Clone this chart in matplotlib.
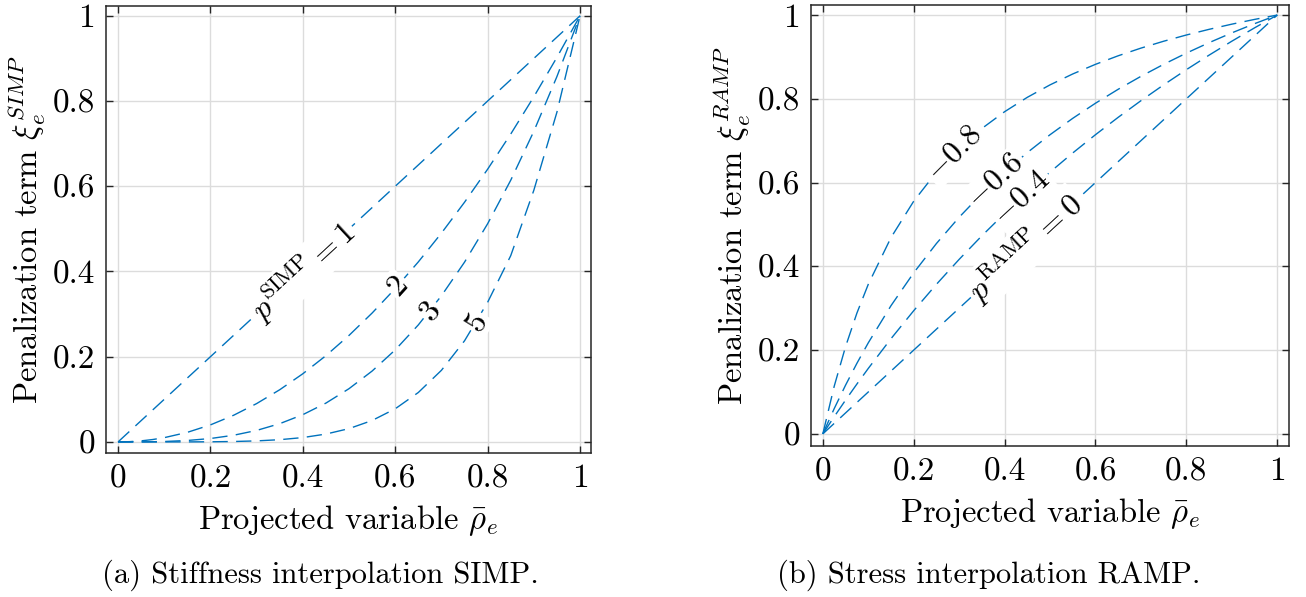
import numpy as np
import matplotlib
matplotlib.use("Agg")
import matplotlib.pyplot as plt

plt.rcParams['font.family'] = 'serif'
plt.rcParams['font.serif'] = ['cmr10']
plt.rcParams['mathtext.fontset'] = 'cm'
plt.rcParams['axes.formatter.use_mathtext'] = True
plt.rcParams['axes.unicode_minus'] = True

# projected variable (x values shared by all curves)
rho = [0, 0.025, 0.05, 0.075, 0.1, 0.15, 0.2, 0.25, 0.3, 0.35, 0.4, 0.45,
       0.5, 0.55, 0.6, 0.65, 0.7, 0.75, 0.8, 0.85, 0.9, 0.95, 1.0]

# SIMP penalization, p = 1, 2, 3, 5
simp_p1 = [0, 0.025, 0.05, 0.075, 0.1, 0.15, 0.2, 0.25, 0.3, 0.35, 0.4, 0.45,
           0.5, 0.55, 0.6, 0.65, 0.7, 0.75, 0.8, 0.85, 0.9, 0.95, 1.0]
simp_p2 = [0, 0.000625, 0.0025, 0.005625, 0.01, 0.0225, 0.04, 0.0625, 0.09, 0.1225,
           0.16, 0.2025, 0.25, 0.3025, 0.36, 0.4225, 0.49, 0.5625, 0.64, 0.7225,
           0.81, 0.9025, 1.0]
simp_p3 = [0, 0.0000156, 0.000125, 0.000422, 0.001, 0.003375, 0.008, 0.015625, 0.027,
           0.042875, 0.064, 0.091125, 0.125, 0.166375, 0.216, 0.274625, 0.343,
           0.421875, 0.512, 0.614125, 0.729, 0.857375, 1.0]
simp_p5 = [0, 0.0, 0.0000003, 0.0000024, 0.00001, 0.0000759, 0.00032, 0.000977,
           0.00243, 0.00525, 0.01024, 0.01845, 0.03125, 0.05033, 0.07776, 0.11603,
           0.16807, 0.2373, 0.32768, 0.43705, 0.59049, 0.77378, 1.0]

# RAMP penalization, p = 0, -0.4, -0.6, -0.8
ramp_0 = [0, 0.025, 0.05, 0.075, 0.1, 0.15, 0.2, 0.25, 0.3, 0.35, 0.4, 0.45,
          0.5, 0.55, 0.6, 0.65, 0.7, 0.75, 0.8, 0.85, 0.9, 0.95, 1.0]
ramp_m04 = [0, 0.04098, 0.08065, 0.11905, 0.15625, 0.22727, 0.29412, 0.35714,
            0.41667, 0.47297, 0.52632, 0.57692, 0.625, 0.67073, 0.71429, 0.75581,
            0.79545, 0.83333, 0.86957, 0.90426, 0.9375, 0.96939, 1.0]
ramp_m06 = [0, 0.06024, 0.11628, 0.16854, 0.21739, 0.30612, 0.38462, 0.45455,
            0.51724, 0.57377, 0.625, 0.67164, 0.71429, 0.75342, 0.78947, 0.82278,
            0.85366, 0.88235, 0.90909, 0.93407, 0.95745, 0.97938, 1.0]
ramp_m08 = [0, 0.11364, 0.20833, 0.28846, 0.35714, 0.46875, 0.55556, 0.625,
            0.68182, 0.72917, 0.76923, 0.80357, 0.83333, 0.85938, 0.88235, 0.90278,
            0.92105, 0.9375, 0.95238, 0.96591, 0.97826, 0.98958, 1.0]

ticks = [0, 0.2, 0.4, 0.6, 0.8, 1]
tick_labels = ['0', '0.2', '0.4', '0.6', '0.8', '1']

simp_curves = [simp_p1, simp_p2, simp_p3, simp_p5]
simp_labels = [r'$p^{\mathrm{SIMP}}=1$', '2', '3', '5']
simp_label_x = [0.40, 0.605, 0.675, 0.775]

ramp_curves = [ramp_0, ramp_m04, ramp_m06, ramp_m08]
ramp_labels = [r'$p^{\mathrm{RAMP}}=0$', r'$-0.4$', r'$-0.6$', r'$-0.8$']
ramp_label_x = [0.445, 0.437, 0.38, 0.29]

blue = '#0072BD'
fs_tick = 24
fs_lab = 23.5
fs_cap = 22
fs_in = 23

fig = plt.figure(figsize=(13.06, 5.97), dpi=100)
ax1 = fig.add_axes([0.0812, 0.2412, 0.3714, 0.7487])
ax2 = fig.add_axes([0.621, 0.2529, 0.366, 0.7387])


def style(ax, ylim):
    ax.set_xlim(-0.026, 1.024)
    ax.set_ylim(*ylim)
    ax.set_xticks(ticks)
    ax.set_xticklabels(tick_labels)
    ax.set_yticks(ticks)
    ax.set_yticklabels(tick_labels)
    ax.tick_params(direction='in', top=True, right=True, length=5,
                   width=1, color='#262626', labelsize=fs_tick, pad=8)
    ax.grid(True, color='#dcdcdc', lw=1)
    ax.set_axisbelow(True)
    for s in ax.spines.values():
        s.set_color('#262626')
        s.set_linewidth(1.1)


def draw(ax, curves, labels, label_x):
    for c in curves:
        ax.plot(rho, c, color=blue, lw=1.0, dashes=(11, 6))
    for c, lab, lx in zip(curves, labels, label_x):
        ly = np.interp(lx, rho, c)
        dx = 0.02
        y1 = np.interp(lx - dx, rho, c)
        y2 = np.interp(lx + dx, rho, c)
        ang = np.degrees(np.arctan2(y2 - y1, 2 * dx))
        rot = ax.transData.transform_angles(np.array([ang]),
                                            np.array([[lx, ly]]))[0]
        ax.text(lx, ly, lab, rotation=rot, rotation_mode='anchor',
                ha='center', va='center', fontsize=fs_in, color='black',
                bbox=dict(facecolor='white', edgecolor='none', pad=1.5))


style(ax1, (-0.026, 1.023))
style(ax2, (-0.029, 1.024))
ax2.set_xlim(-0.026, 1.026)

draw(ax1, simp_curves, simp_labels, simp_label_x)
draw(ax2, ramp_curves, ramp_labels, ramp_label_x)

ax1.set_xlabel(r'Projected variable $\bar{\rho}_e$', fontsize=fs_lab, labelpad=7)
ax1.set_ylabel(r'Penalization term $\xi_e^{SIMP}$', fontsize=fs_lab, labelpad=3)
ax2.set_xlabel(r'Projected variable $\bar{\rho}_e$', fontsize=fs_lab, labelpad=7)
ax2.set_ylabel(r'Penalization term $\xi_e^{RAMP}$', fontsize=fs_lab, labelpad=3)

fig.text(0.245, 0.037, '(a) Stiffness interpolation SIMP.', fontsize=fs_cap,
         ha='center', va='center')
fig.text(0.757, 0.037, '(b) Stress interpolation RAMP.', fontsize=fs_cap,
         ha='center', va='center')

fig.savefig('out.png', dpi=100)
